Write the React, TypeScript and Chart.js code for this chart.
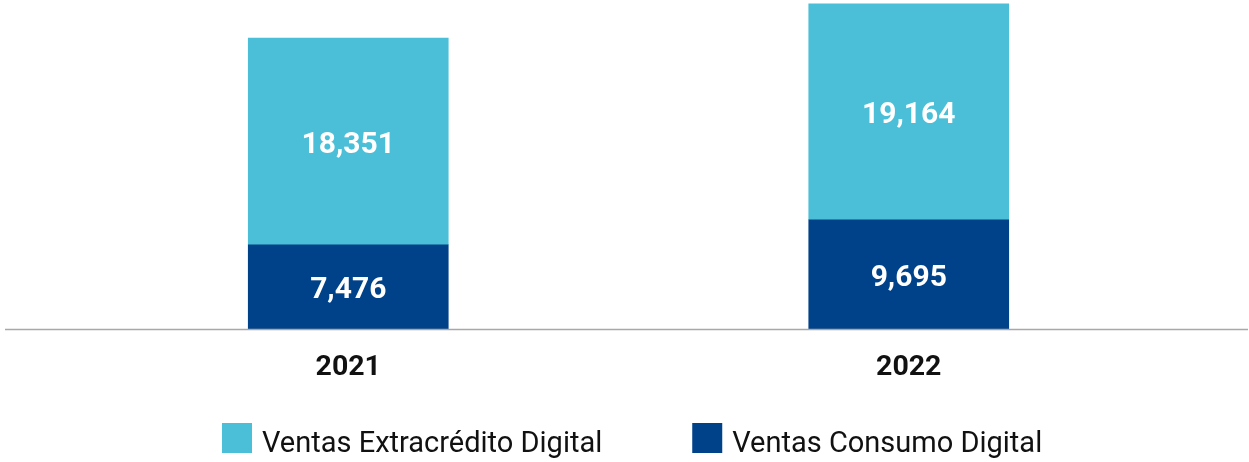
import React, { useEffect, useRef } from "react";
import { Chart, registerables } from "chart.js";

Chart.register(...registerables);

const categories = ["2021", "2022"];
const consumoValues = [7476, 9695];
const extracreditoValues = [18351, 19164];
const consumoLabel = "Ventas Consumo Digital";
const extracreditoLabel = "Ventas Extracrédito Digital";

const LIGHT = "#4bbfd7";
const DARK = "#00428a";
const FONT = "Roboto, 'DejaVu Sans', sans-serif";

const valueLabels = {
  id: "valueLabels",
  afterDatasetsDraw(chart: any) {
    const ctx = chart.ctx;
    ctx.save();
    ctx.fillStyle = "#ffffff";
    ctx.font = `bold 30px ${FONT}`;
    ctx.textAlign = "center";
    ctx.textBaseline = "middle";
    chart.data.datasets.forEach((ds: any, i: number) => {
      const meta = chart.getDatasetMeta(i);
      meta.data.forEach((el: any, j: number) => {
        const v = ds.data[j] as number;
        const y = (el.y + el.base) / 2 + 4;
        ctx.fillText(v.toLocaleString("en-US"), el.x, y);
      });
    });
    ctx.restore();
  },
};

const baseline = {
  id: "baseline",
  afterDatasetsDraw(chart: any) {
    const ctx = chart.ctx;
    const y = chart.scales.y.getPixelForValue(0);
    ctx.save();
    ctx.strokeStyle = "#a8a8a8";
    ctx.lineWidth = 1.5;
    ctx.beginPath();
    ctx.moveTo(5, y + 0.5);
    ctx.lineTo(chart.width - 1, y + 0.5);
    ctx.stroke();
    ctx.restore();
  },
};

const customLegend = {
  id: "customLegend",
  afterDraw(chart: any) {
    const ctx = chart.ctx;
    const items = [...chart.data.datasets].reverse();
    const box = 30;
    const gap = 10;
    const itemGap = 90;
    ctx.save();
    ctx.font = `29px ${FONT}`;
    const widths = items.map((d: any) => box + gap + ctx.measureText(d.label).width);
    let x = 222;
    const boxTop = 423;
    items.forEach((d: any, i: number) => {
      ctx.fillStyle = d.backgroundColor;
      ctx.fillRect(x, boxTop, box, box);
      ctx.fillStyle = "#111111";
      ctx.textAlign = "left";
      ctx.textBaseline = "alphabetic";
      ctx.fillText(d.label, x + box + gap, 452);
      x += widths[i] + itemGap;
    });
    ctx.restore();
  },
};

export default function App() {
  const ref = useRef<HTMLCanvasElement>(null);
  useEffect(() => {
    if (!ref.current) return;
    const chart = new Chart(ref.current, {
      type: "bar",
      data: {
        labels: categories,
        datasets: [
          { label: consumoLabel, data: consumoValues, backgroundColor: DARK, barThickness: 200 },
          { label: extracreditoLabel, data: extracreditoValues, backgroundColor: LIGHT, barThickness: 200 },
        ],
      },
      options: {
        animation: false,
        responsive: false,
        maintainAspectRatio: false,
        layout: { padding: { top: 0, left: 68, right: 60, bottom: 84 } },
        plugins: { legend: { display: false }, tooltip: { enabled: false } },
        scales: {
          x: {
            stacked: true,
            grid: { display: false, drawTicks: false },
            border: { display: false },
            ticks: { color: "#111111", font: { family: FONT, size: 28.5, weight: "bold" }, padding: 22 },
            afterFit: (s: any) => {
              s.height = 49;
            },
          },
          y: {
            stacked: true,
            display: false,
            min: 0,
            max: 29200,
          },
        },
      },
      plugins: [valueLabels, baseline, customLegend],
    });
    return () => chart.destroy();
  }, []);
  return (
    <div style={{ position: "absolute", left: 0, top: 0, width: 1249, height: 462, background: "#fff" }}>
      <canvas ref={ref} width={1249} height={462} style={{ width: 1249, height: 462 }} />
    </div>
  );
}
